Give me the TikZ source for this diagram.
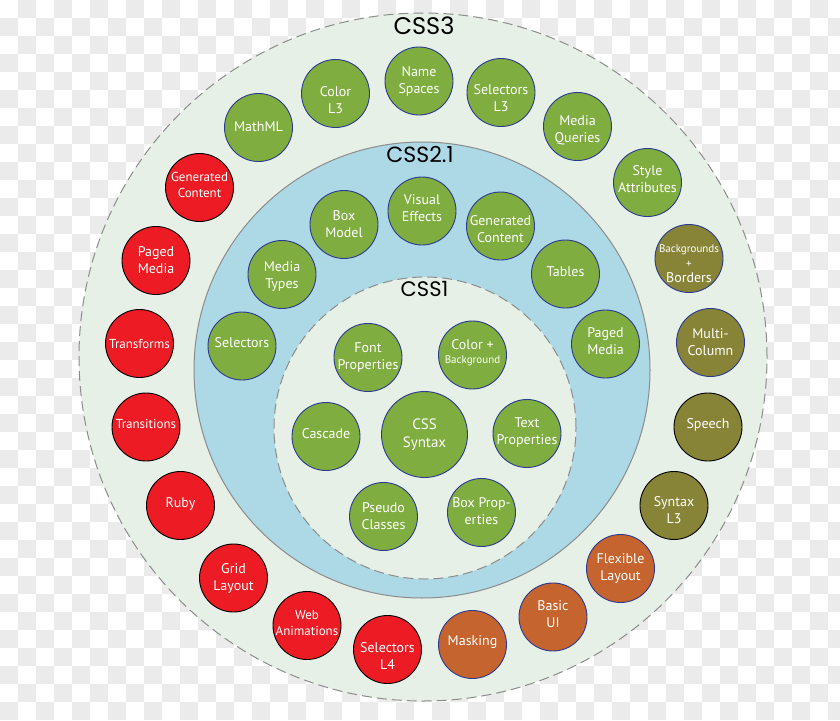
\documentclass[tikz,border=0pt]{standalone}
\usepackage{fontspec}
\setmainfont{PT Sans}
\newfontfamily\titlefont{Poppins}
\definecolor{cpale}{HTML}{E6F0E6}
\definecolor{cblue}{HTML}{ADD8E6}
\definecolor{cgreen}{HTML}{7FAD3F}
\definecolor{cred}{HTML}{ED1C24}
\definecolor{colive}{HTML}{878437}
\definecolor{corange}{HTML}{C5642E}
\definecolor{cnavy}{HTML}{2B3990}
\definecolor{cring}{HTML}{8C8C8C}
\definecolor{cchk}{HTML}{EBEBEB}
\newcommand{\bb}[6][]{%
  \node[#5] (#2) at (#3,#4) {};
  \node[txt,#1] (#2t) at (#2.center) {#6};}
\begin{document}
\begin{tikzpicture}[x=1pt,y=-1pt,
  bub/.style={circle, inner sep=0pt, minimum size=68pt, line width=0.9pt},
  bgreen/.style={bub, fill=cgreen, draw=cnavy},
  bred/.style={bub, fill=cred, draw=black},
  bolive/.style={bub, fill=colive, draw=cnavy},
  boliveK/.style={bub, fill=colive, draw=black},
  borange/.style={bub, fill=corange, draw=cnavy},
  txt/.style={text=white, align=center, inner sep=0pt, font=\fontsize{14}{17}\selectfont},
  sm/.style={font=\fontsize{13}{16}\selectfont},
  ringdash/.style={draw=cring, line width=1pt, dash pattern=on 10pt off 5pt},
  ringsolid/.style={draw=cring, line width=1pt},
  ttl/.style={inner sep=0pt, text=black}]
\useasboundingbox (0,0) rectangle (840,720);
\clip (0,0) rectangle (840,720);
\fill[white] (0,0) rectangle (840,720);
\foreach \i in {0,...,46} {
  \foreach \j in {0,...,39} {
    \pgfmathtruncatemacro\p{mod(\i+\j,2)}
    \ifnum\p=1 \fill[cchk] (18*\i,18*\j) rectangle ++(18,18); \fi
  }
}
% rings
\filldraw[fill=cpale, ringdash] (423,357) circle[radius=344pt];
\filldraw[fill=cblue, ringsolid] (422,370) circle[radius=228pt];
\filldraw[fill=cpale, ringdash] (425,428) circle[radius=151pt];
% titles
\node[ttl, font=\titlefont\fontsize{24}{28}\selectfont] (t3) at (424,26) {CSS3};
\node[ttl, font=\titlefont\fontsize{22}{26}\selectfont] (t21) at (420,154) {CSS2.1};
\node[ttl, font=\titlefont\fontsize{21}{25}\selectfont] (t1) at (424.5,288.5) {CSS1};
% CSS3 ring
\bb{ns}{419}{81}{bgreen}{Name\\Spaces}
\bb[yshift=-7pt]{cl3}{335.5}{93.5}{bgreen}{Color\\L3}
\bb[yshift=1pt]{mml}{258.5}{127.5}{bgreen}{MathML}
\bb[sm,yshift=3pt]{gc3}{199.5}{187.5}{bred}{Generated\\Content}
\bb{pm3}{156}{260.5}{bred}{Paged\\Media}
\bb[sm]{tf}{139.5}{343.5}{bred}{Transforms}
\bb[sm,yshift=3pt]{tr}{146}{427}{bred}{Transitions}
\bb[yshift=2pt]{rb}{180.5}{505.5}{bred}{Ruby}
\bb{gl}{233.5}{578}{bred}{Grid\\Layout}
\bb[sm,yshift=2pt]{wa}{307}{625.5}{bred}{Web\\Animations}
\bb[yshift=-7pt]{s4}{387.5}{649.5}{bred}{Selectors\\L4}
\bb[yshift=2pt]{mk}{472.5}{644.5}{borange}{Masking}
\bb[yshift=3pt]{bu}{553}{617}{borange}{Basic\\UI}
\bb{fl}{620.5}{568.5}{borange}{Flexible\\Layout}
\bb[yshift=-5pt]{sl3}{674}{505.5}{boliveK}{Syntax\\L3}
\bb[yshift=2pt]{sp}{708}{427}{boliveK}{Speech}
\bb{mc}{710.5}{342.5}{bolive}{Multi-\\Column}
\bb[font=\fontsize{11}{12}\selectfont,yshift=-5pt]{bgb}{689}{258.5}{bolive}{Backgrounds\\[3pt]+\\[3pt]{\fontsize{14}{14}\selectfont Borders}}
\bb[yshift=3pt]{sa}{647.5}{182.5}{bgreen}{Style\\Attributes}
\bb[yshift=-4pt]{mq}{577.5}{126.5}{bgreen}{Media\\Queries}
\bb[yshift=-6pt]{s3}{501}{92.5}{bgreen}{Selectors\\L3}
% CSS2.1 ring
\bb[yshift=3pt]{sel}{242}{346}{bgreen}{Selectors}
\bb[yshift=-2pt]{mt}{282}{274.5}{bgreen}{Media\\Types}
\bb{bm}{344}{224.5}{bgreen}{Box\\Model}
\bb[yshift=3pt]{ve}{422}{211}{bgreen}{Visual\\Effects}
\bb[yshift=-3pt]{gc2}{500.5}{226}{bgreen}{Generated\\Content}
\bb[yshift=2pt]{tb}{565.5}{274}{bgreen}{Tables}
\bb[yshift=3pt]{pm2}{605.5}{344}{bgreen}{Paged\\Media}
% CSS1
\bb{fp}{368}{357.5}{bgreen}{Font\\Properties}
\bb[yshift=2.5pt]{cb}{472.5}{355}{bgreen}{Color +\\[-3pt]{\fontsize{11}{12}\selectfont Background}}
\bb[yshift=3pt]{cs}{326}{436.5}{bgreen}{Cascade}
\bb[font=\fontsize{15}{18}\selectfont]{sy}{424.5}{434.5}{bgreen,minimum size=86pt}{CSS\\Syntax}
\bb[yshift=1pt]{tp}{527}{433.5}{bgreen}{Text\\Properties}
\bb{pc}{383.5}{516.5}{bgreen}{Pseudo\\Classes}
\bb[yshift=1pt]{bp}{481.5}{512.5}{bgreen}{Box Prop-\\erties}
\end{tikzpicture}
\end{document}
